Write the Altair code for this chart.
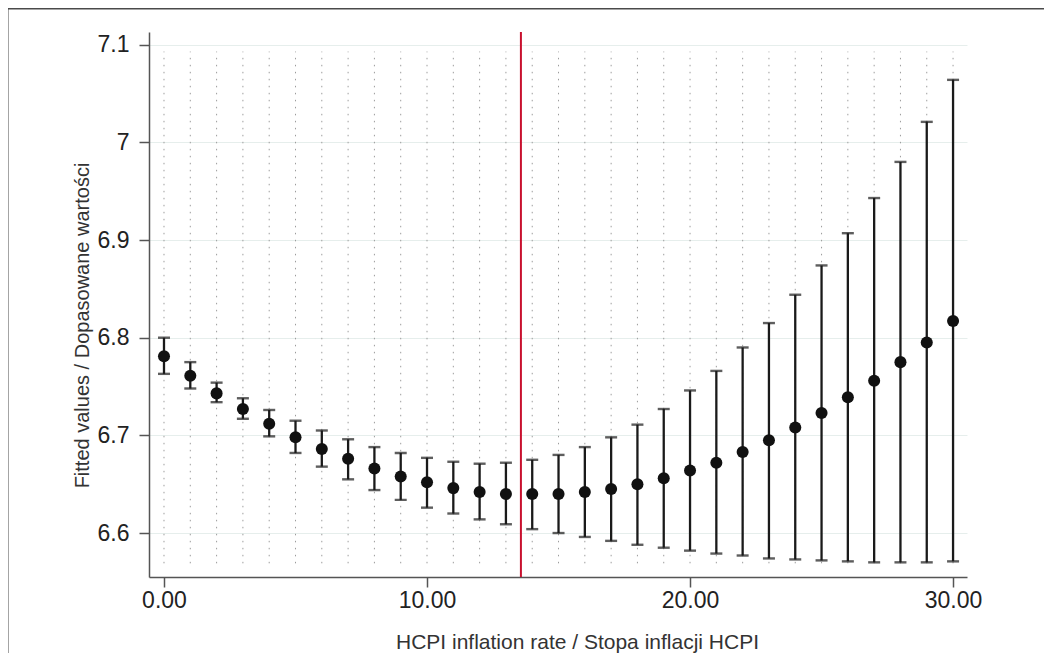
import altair as alt
import pandas as pd

# ---- data ----
inflation = list(range(31))
fitted = [6.781, 6.761, 6.743, 6.727, 6.712, 6.698, 6.686, 6.676, 6.666, 6.658,
          6.652, 6.646, 6.642, 6.640, 6.640, 6.640, 6.642, 6.645, 6.650, 6.656,
          6.664, 6.672, 6.683, 6.695, 6.708, 6.723, 6.739, 6.756, 6.775, 6.795,
          6.817]
ci_upper = [6.800, 6.775, 6.754, 6.738, 6.726, 6.715, 6.705, 6.696, 6.688, 6.682,
            6.677, 6.673, 6.671, 6.672, 6.675, 6.680, 6.688, 6.698, 6.711, 6.727,
            6.746, 6.766, 6.790, 6.815, 6.844, 6.874, 6.907, 6.943, 6.980, 7.021,
            7.064]
ci_lower = [6.763, 6.748, 6.734, 6.717, 6.699, 6.682, 6.668, 6.655, 6.644, 6.634,
            6.626, 6.620, 6.614, 6.609, 6.604, 6.600, 6.596, 6.592, 6.588, 6.585,
            6.582, 6.579, 6.577, 6.574, 6.573, 6.572, 6.571, 6.570, 6.570, 6.570,
            6.571]
threshold = [13.57]
x_ticks = [0, 10, 20, 30]
y_ticks = [6.6, 6.7, 6.8, 6.9, 7.0, 7.1]
grid_lo, grid_hi = 6.569, 7.093

df = pd.DataFrame({"x": inflation, "fit": fitted, "hi": ci_upper, "lo": ci_lower})
thr = pd.DataFrame({"t": threshold})

xscale = alt.Scale(domain=[-0.57, 30.53], nice=False, zero=False)
yscale = alt.Scale(domain=[6.555, 7.113], nice=False, zero=False)

XT = "HCPI inflation rate / Stopa inflacji HCPI"
YT = "Fitted values / Dopasowane wartości"

xaxis = alt.Axis(values=x_ticks, format=".2f", title=XT, grid=False,
                 labelPadding=2, titlePadding=19, titleFontSize=21,
                 titleX=428, titleAlign="center")
yaxis = alt.Axis(values=y_ticks, format="~g", title=YT, grid=True,
                 gridColor="#e6eeec", gridWidth=1, labelPadding=10, titlePadding=5,
                 titleFontSize=20, titleY=293, titleAlign="center")

base = alt.Chart(df)

frame = alt.Chart(pd.DataFrame({"a": [0]})).mark_rect(
    fillOpacity=0, stroke="#4a4a4a", strokeWidth=2, clip=False
).encode(x=alt.value(-141.5), x2=alt.value(1300), y=alt.value(-23.5), y2=alt.value(1000))

dots = base.mark_rule(color="#9c9c9c", strokeDash=[1.5, 5.5], strokeWidth=1).encode(
    x=alt.X("x:Q", scale=xscale, axis=xaxis),
    y=alt.YDatum(grid_lo, scale=yscale, axis=yaxis),
    y2=alt.Y2Datum(grid_hi),
)

red = alt.Chart(thr).mark_rule(color="#c8102e", strokeWidth=2).encode(
    x=alt.X("t:Q", scale=xscale, axis=xaxis)
)

bars = base.mark_rule(color="#1a1a1a", strokeWidth=2.3).encode(
    x=alt.X("x:Q", scale=xscale, axis=xaxis),
    y=alt.Y("lo:Q", scale=yscale, axis=yaxis),
    y2="hi:Q",
)

cap_hi = base.mark_tick(orient="horizontal", size=12, thickness=2.4, color="#1a1a1a").encode(
    x=alt.X("x:Q", scale=xscale, axis=xaxis),
    y=alt.Y("hi:Q", scale=yscale, axis=yaxis),
)
cap_lo = base.mark_tick(orient="horizontal", size=12, thickness=2.4, color="#1a1a1a").encode(
    x=alt.X("x:Q", scale=xscale, axis=xaxis),
    y=alt.Y("lo:Q", scale=yscale, axis=yaxis),
)

pts = base.mark_circle(size=145, color="#111111", opacity=1).encode(
    x=alt.X("x:Q", scale=xscale, axis=xaxis),
    y=alt.Y("fit:Q", scale=yscale, axis=yaxis),
)

chart = alt.layer(frame, dots, red, bars, cap_hi, cap_lo, pts).properties(
    width=818, height=545,
    autosize=alt.AutoSizeParams(type="none"),
    padding={"left": 141, "top": 24, "right": 77, "bottom": 76},
    background="white",
).configure_view(stroke=None).configure_axis(
    domainColor="#555555", domainWidth=1.5,
    tickColor="#555555", tickWidth=1.5, tickSize=10,
    labelFont="Liberation Sans", labelFontSize=23, labelColor="#222222",
    titleFont="Liberation Sans", titleFontWeight="normal",
    titleColor="#333333",
)

chart.save("out.html", embed_options={"renderer": "svg", "actions": False})
